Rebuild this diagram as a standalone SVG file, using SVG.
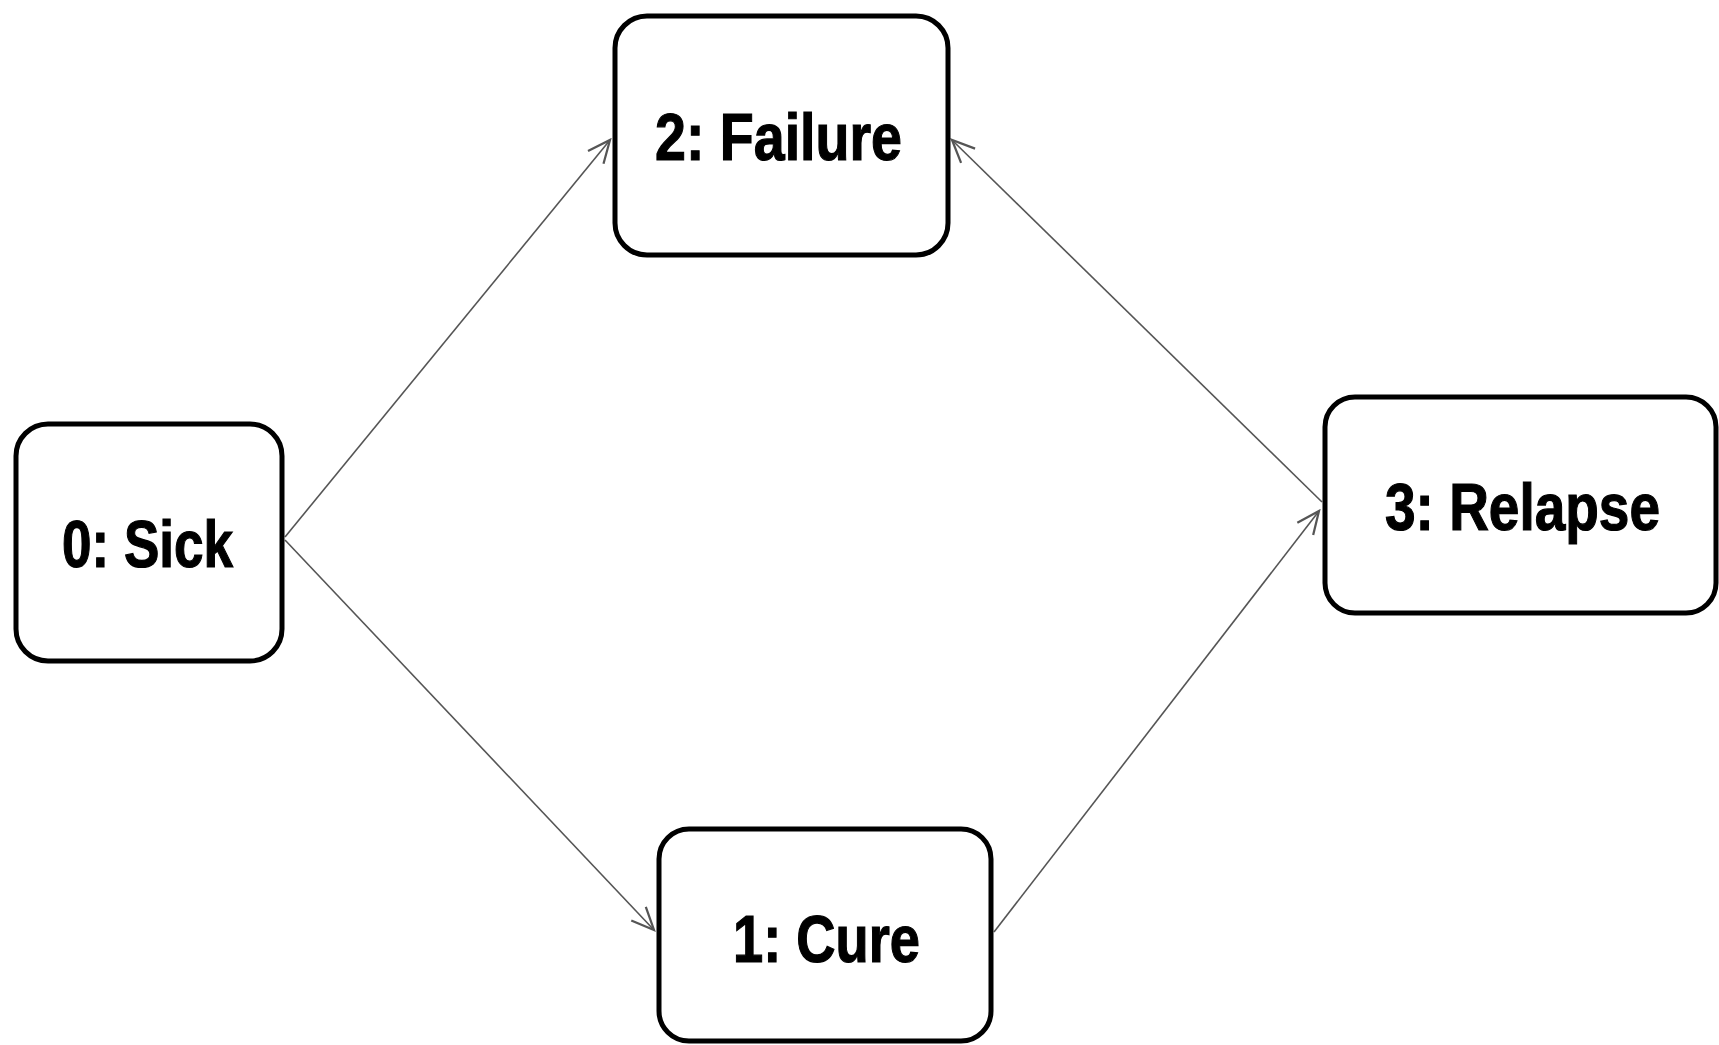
<svg xmlns="http://www.w3.org/2000/svg" width="1719" height="1045" viewBox="0 0 1719 1045">
<style>
.box{fill:#fff;stroke:#000;stroke-width:5}
.lbl{font-family:"Liberation Sans",Arial,sans-serif;font-weight:bold;font-size:66px;fill:#000;stroke:#000;stroke-width:1.2}
.edge{stroke:#555;stroke-width:1.6;fill:none;marker-end:url(#arr)}
</style>
<defs>
<marker id="arr" markerUnits="userSpaceOnUse" markerWidth="30" markerHeight="30" viewBox="-22 -10 24 20" refX="0" refY="0" orient="auto">
<path d="M-18,-8 L0,0 L-18,8" fill="none" stroke="#555" stroke-width="1.8"/>
</marker>
</defs>
<rect width="1719" height="1045" fill="#fff"/>
<g id="connectors">
<line class="edge" x1="285" y1="537" x2="610" y2="140"/>
<line class="edge" x1="285" y1="540" x2="654" y2="930"/>
<line class="edge" x1="994" y1="932" x2="1319" y2="511"/>
<line class="edge" x1="1322" y1="502" x2="952" y2="140"/>
</g>
<g id="node0">
<rect class="box" x="16" y="424" width="266" height="237" rx="32"/>
<text class="lbl" x="62" y="567" textLength="171" lengthAdjust="spacingAndGlyphs">0: Sick</text>
</g>
<g id="node2">
<rect class="box" x="615" y="16" width="333" height="239" rx="32"/>
<text class="lbl" x="655" y="160" textLength="247" lengthAdjust="spacingAndGlyphs">2: Failure</text>
</g>
<g id="node3">
<rect class="box" x="1325" y="397" width="391" height="216" rx="30"/>
<text class="lbl" x="1385" y="530" textLength="275" lengthAdjust="spacingAndGlyphs">3: Relapse</text>
</g>
<g id="node1">
<rect class="box" x="659" y="829" width="332" height="212" rx="30"/>
<text class="lbl" x="733" y="962" textLength="187" lengthAdjust="spacingAndGlyphs">1: Cure</text>
</g>
</svg>
